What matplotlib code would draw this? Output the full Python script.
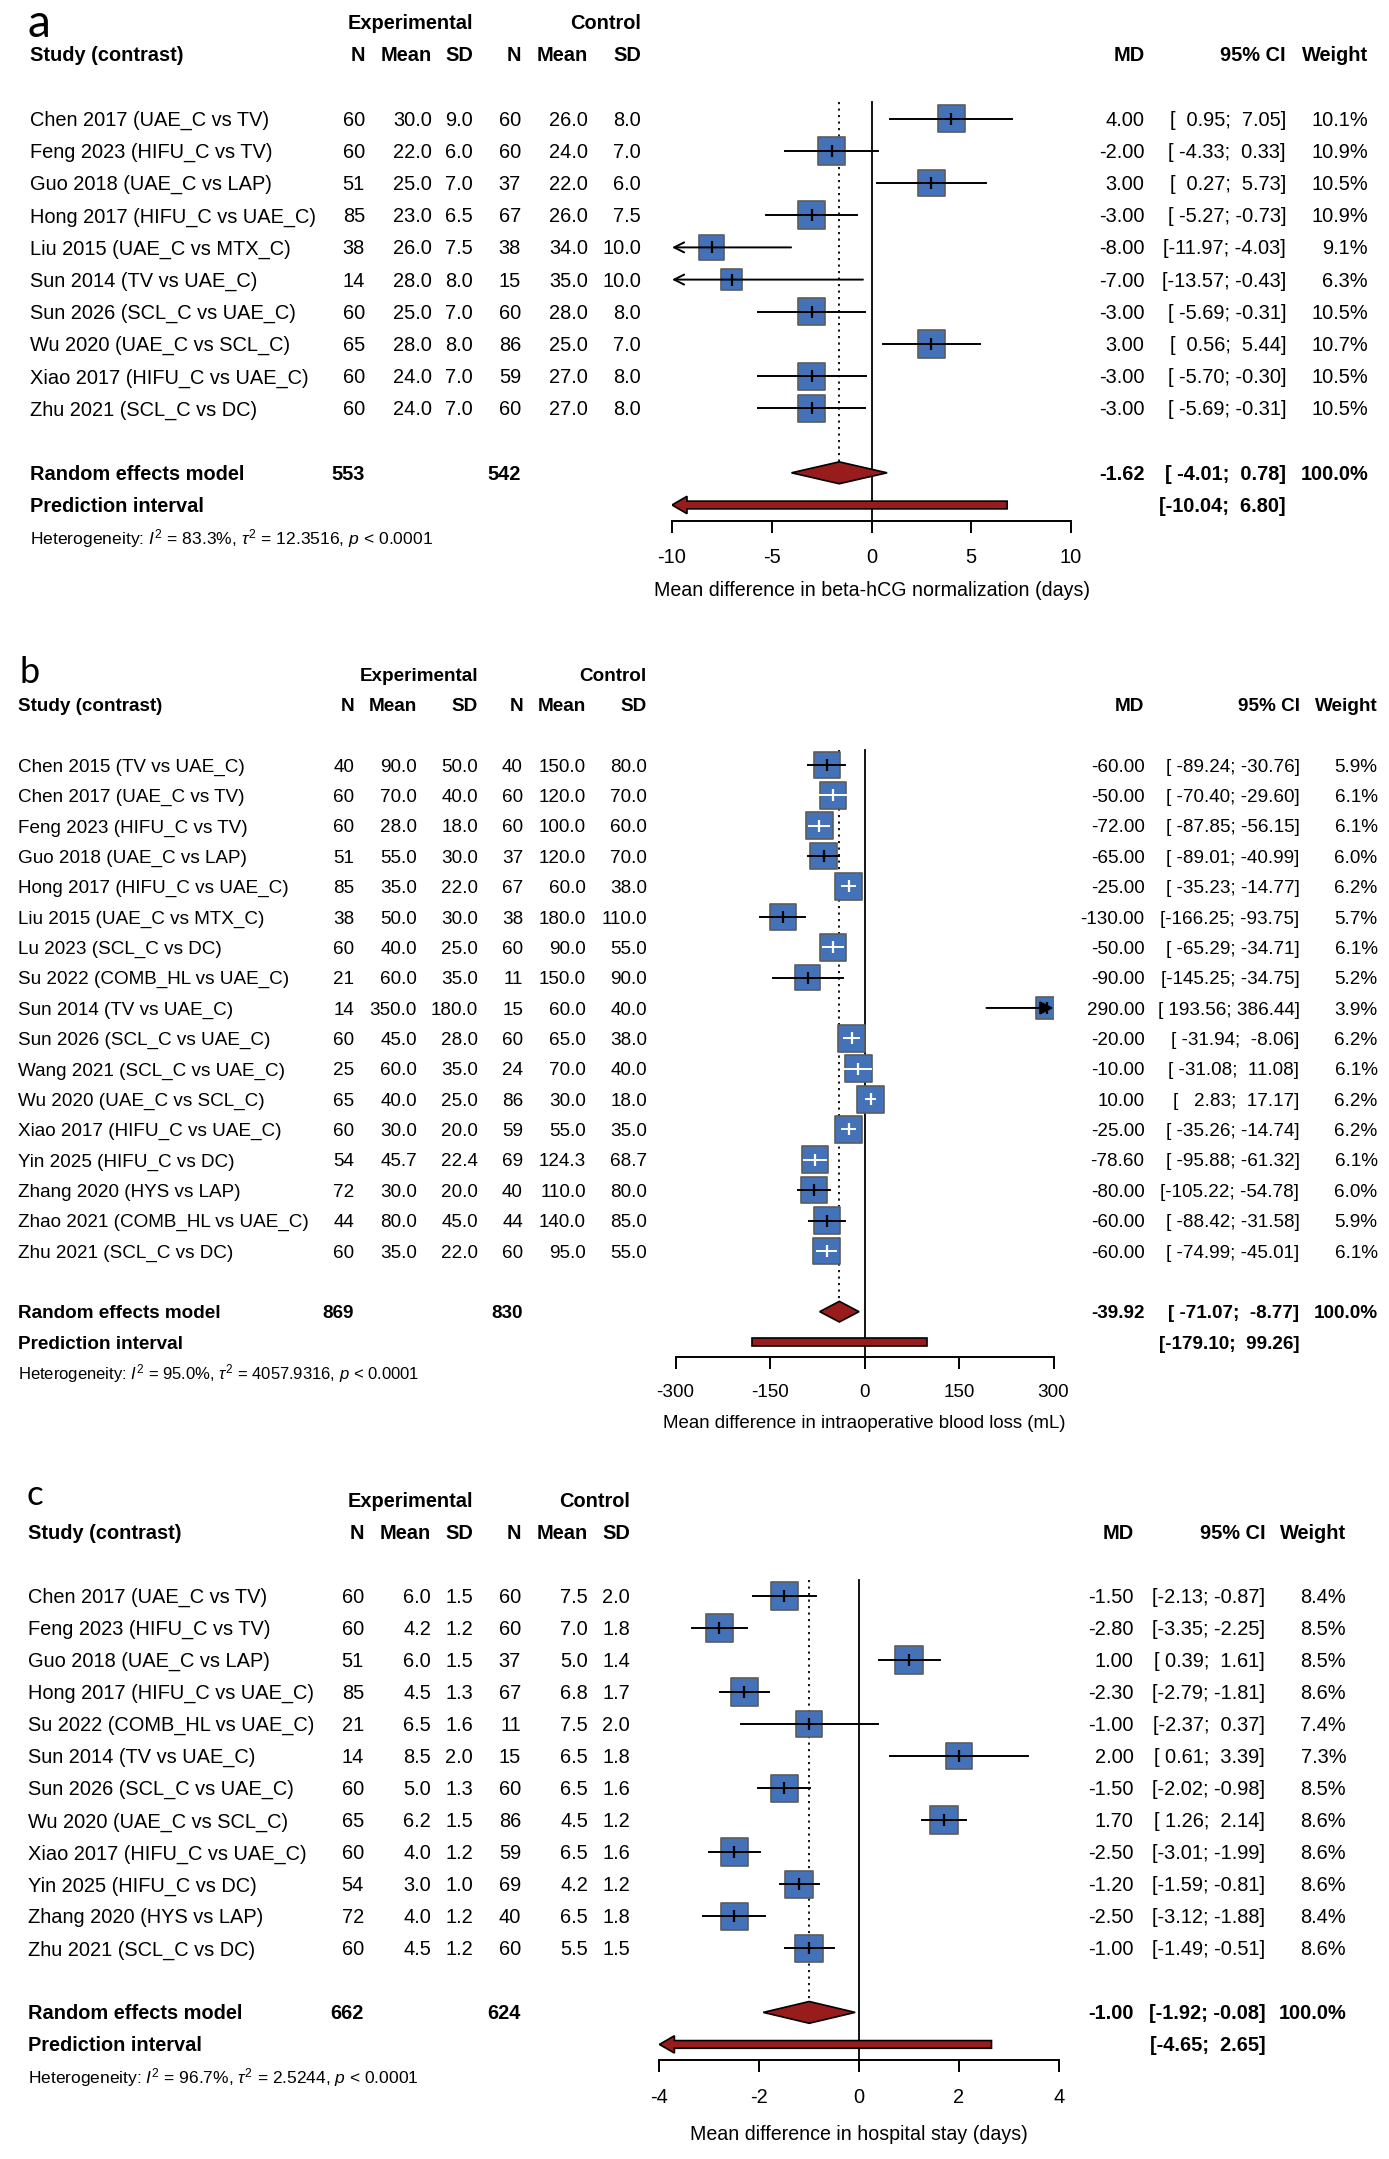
import matplotlib
matplotlib.use("Agg")
import numpy as np
import matplotlib.pyplot as plt
from matplotlib.patches import Polygon
from matplotlib.transforms import blended_transform_factory

plt.rcParams["font.family"] = ["Liberation Sans", "DejaVu Sans"]
plt.rcParams["axes.unicode_minus"] = False
plt.rcParams["mathtext.fontset"] = "custom"
plt.rcParams["mathtext.rm"] = "Liberation Sans"
plt.rcParams["mathtext.it"] = "Liberation Sans:italic"

# ---------- panel a: beta-hCG normalization ----------
a_studies = ["Chen 2017 (UAE_C vs TV)", "Feng 2023 (HIFU_C vs TV)", "Guo 2018 (UAE_C vs LAP)",
             "Hong 2017 (HIFU_C vs UAE_C)", "Liu 2015 (UAE_C vs MTX_C)", "Sun 2014 (TV vs UAE_C)",
             "Sun 2026 (SCL_C vs UAE_C)", "Wu 2020 (UAE_C vs SCL_C)", "Xiao 2017 (HIFU_C vs UAE_C)",
             "Zhu 2021 (SCL_C vs DC)"]
a_exp_n = [60, 60, 51, 85, 38, 14, 60, 65, 60, 60]
a_exp_mean = [30.0, 22.0, 25.0, 23.0, 26.0, 28.0, 25.0, 28.0, 24.0, 24.0]
a_exp_sd = [9.0, 6.0, 7.0, 6.5, 7.5, 8.0, 7.0, 8.0, 7.0, 7.0]
a_ctl_n = [60, 60, 37, 67, 38, 15, 60, 86, 59, 60]
a_ctl_mean = [26.0, 24.0, 22.0, 26.0, 34.0, 35.0, 28.0, 25.0, 27.0, 27.0]
a_ctl_sd = [8.0, 7.0, 6.0, 7.5, 10.0, 10.0, 8.0, 7.0, 8.0, 8.0]
a_md = [4.00, -2.00, 3.00, -3.00, -8.00, -7.00, -3.00, 3.00, -3.00, -3.00]
a_lo = [0.95, -4.33, 0.27, -5.27, -11.97, -13.57, -5.69, 0.56, -5.70, -5.69]
a_hi = [7.05, 0.33, 5.73, -0.73, -4.03, -0.43, -0.31, 5.44, -0.30, -0.31]
a_weight = [10.1, 10.9, 10.5, 10.9, 9.1, 6.3, 10.5, 10.7, 10.5, 10.5]
a_pooled = [-1.62, -4.01, 0.78]
a_pred = [-10.04, 6.80]
a_totals = [553, 542]
a_het = ["83.3%", "12.3516"]
a_ticks = [-10, -5, 0, 5, 10]
a_xlabel = "Mean difference in beta-hCG normalization (days)"

# ---------- panel b: intraoperative blood loss ----------
b_studies = ["Chen 2015 (TV vs UAE_C)", "Chen 2017 (UAE_C vs TV)", "Feng 2023 (HIFU_C vs TV)",
             "Guo 2018 (UAE_C vs LAP)", "Hong 2017 (HIFU_C vs UAE_C)", "Liu 2015 (UAE_C vs MTX_C)",
             "Lu 2023 (SCL_C vs DC)", "Su 2022 (COMB_HL vs UAE_C)", "Sun 2014 (TV vs UAE_C)",
             "Sun 2026 (SCL_C vs UAE_C)", "Wang 2021 (SCL_C vs UAE_C)", "Wu 2020 (UAE_C vs SCL_C)",
             "Xiao 2017 (HIFU_C vs UAE_C)", "Yin 2025 (HIFU_C vs DC)", "Zhang 2020 (HYS vs LAP)",
             "Zhao 2021 (COMB_HL vs UAE_C)", "Zhu 2021 (SCL_C vs DC)"]
b_exp_n = [40, 60, 60, 51, 85, 38, 60, 21, 14, 60, 25, 65, 60, 54, 72, 44, 60]
b_exp_mean = [90.0, 70.0, 28.0, 55.0, 35.0, 50.0, 40.0, 60.0, 350.0, 45.0, 60.0, 40.0, 30.0, 45.7, 30.0, 80.0, 35.0]
b_exp_sd = [50.0, 40.0, 18.0, 30.0, 22.0, 30.0, 25.0, 35.0, 180.0, 28.0, 35.0, 25.0, 20.0, 22.4, 20.0, 45.0, 22.0]
b_ctl_n = [40, 60, 60, 37, 67, 38, 60, 11, 15, 60, 24, 86, 59, 69, 40, 44, 60]
b_ctl_mean = [150.0, 120.0, 100.0, 120.0, 60.0, 180.0, 90.0, 150.0, 60.0, 65.0, 70.0, 30.0, 55.0, 124.3, 110.0, 140.0, 95.0]
b_ctl_sd = [80.0, 70.0, 60.0, 70.0, 38.0, 110.0, 55.0, 90.0, 40.0, 38.0, 40.0, 18.0, 35.0, 68.7, 80.0, 85.0, 55.0]
b_md = [-60.0, -50.0, -72.0, -65.0, -25.0, -130.0, -50.0, -90.0, 290.0, -20.0, -10.0, 10.0, -25.0, -78.6, -80.0, -60.0, -60.0]
b_lo = [-89.24, -70.40, -87.85, -89.01, -35.23, -166.25, -65.29, -145.25, 193.56, -31.94, -31.08, 2.83,
        -35.26, -95.88, -105.22, -88.42, -74.99]
b_hi = [-30.76, -29.60, -56.15, -40.99, -14.77, -93.75, -34.71, -34.75, 386.44, -8.06, 11.08, 17.17,
        -14.74, -61.32, -54.78, -31.58, -45.01]
b_weight = [5.9, 6.1, 6.1, 6.0, 6.2, 5.7, 6.1, 5.2, 3.9, 6.2, 6.1, 6.2, 6.2, 6.1, 6.0, 5.9, 6.1]
b_pooled = [-39.92, -71.07, -8.77]
b_pred = [-179.10, 99.26]
b_totals = [869, 830]
b_het = ["95.0%", "4057.9316"]
b_ticks = [-300, -150, 0, 150, 300]
b_xlabel = "Mean difference in intraoperative blood loss (mL)"

# ---------- panel c: hospital stay ----------
c_studies = ["Chen 2017 (UAE_C vs TV)", "Feng 2023 (HIFU_C vs TV)", "Guo 2018 (UAE_C vs LAP)",
             "Hong 2017 (HIFU_C vs UAE_C)", "Su 2022 (COMB_HL vs UAE_C)", "Sun 2014 (TV vs UAE_C)",
             "Sun 2026 (SCL_C vs UAE_C)", "Wu 2020 (UAE_C vs SCL_C)", "Xiao 2017 (HIFU_C vs UAE_C)",
             "Yin 2025 (HIFU_C vs DC)", "Zhang 2020 (HYS vs LAP)", "Zhu 2021 (SCL_C vs DC)"]
c_exp_n = [60, 60, 51, 85, 21, 14, 60, 65, 60, 54, 72, 60]
c_exp_mean = [6.0, 4.2, 6.0, 4.5, 6.5, 8.5, 5.0, 6.2, 4.0, 3.0, 4.0, 4.5]
c_exp_sd = [1.5, 1.2, 1.5, 1.3, 1.6, 2.0, 1.3, 1.5, 1.2, 1.0, 1.2, 1.2]
c_ctl_n = [60, 60, 37, 67, 11, 15, 60, 86, 59, 69, 40, 60]
c_ctl_mean = [7.5, 7.0, 5.0, 6.8, 7.5, 6.5, 6.5, 4.5, 6.5, 4.2, 6.5, 5.5]
c_ctl_sd = [2.0, 1.8, 1.4, 1.7, 2.0, 1.8, 1.6, 1.2, 1.6, 1.2, 1.8, 1.5]
c_md = [-1.50, -2.80, 1.00, -2.30, -1.00, 2.00, -1.50, 1.70, -2.50, -1.20, -2.50, -1.00]
c_lo = [-2.13, -3.35, 0.39, -2.79, -2.37, 0.61, -2.02, 1.26, -3.01, -1.59, -3.12, -1.49]
c_hi = [-0.87, -2.25, 1.61, -1.81, 0.37, 3.39, -0.98, 2.14, -1.99, -0.81, -1.88, -0.51]
c_weight = [8.4, 8.5, 8.5, 8.6, 7.4, 7.3, 8.5, 8.6, 8.6, 8.6, 8.4, 8.6]
c_pooled = [-1.00, -1.92, -0.08]
c_pred = [-4.65, 2.65]
c_totals = [662, 624]
c_het = ["96.7%", "2.5244"]
c_ticks = [-4, -2, 0, 2, 4]
c_xlabel = "Mean difference in hospital stay (days)"

W, H = 1389, 2159
fig = plt.figure(figsize=(W / 100, H / 100), dpi=100)

BOX = "#4372B9"
BOX_EDGE = "#5c5c5c"
DARKRED = "#981C1C"


def ci_text(lo, hi, extra):
    los = ["%.2f" % v for v in lo]
    his = ["%.2f" % v for v in hi]
    wl = max(len(s) for s in los)
    wh = max(len(s) for s in his)
    out = ["[%s; %s]" % (l.rjust(wl), h.rjust(wh)) for l, h in zip(los, his)]
    more = ["[%s; %s]" % (("%.2f" % l).rjust(wl), ("%.2f" % h).rjust(wh)) for l, h in extra]
    return out, more


def forest(letter, studies, en, em, es, cn, cm, cs, md, lo, hi, wt, pooled, pred,
           totals, het, ticks, xlabel, lay):
    n = len(studies)
    x0, x1 = lay["xpix"]
    row0, step = lay["row0"], lay["step"]
    top = row0 - 3.5 * step
    bot = row0 + (n + 2.5) * step
    ax = fig.add_axes([x0 / W, 1 - bot / H, (x1 - x0) / W, (bot - top) / H])
    xmin, xmax = ticks[0], ticks[-1]
    ax.set_xlim(xmin, xmax)
    ax.set_ylim(n + 2.5, -3.5)
    ax.patch.set_alpha(0)
    for s in ["left", "right", "top"]:
        ax.spines[s].set_visible(False)
    ax.spines["bottom"].set_linewidth(1.4)
    ax.spines["bottom"].set_bounds(xmin, xmax)
    ax.set_yticks([])
    ax.set_xticks(ticks)
    ax.set_xticklabels([str(t) for t in ticks])
    fs = lay["fs"]
    ax.tick_params(axis="x", direction="out", length=8.6, width=1.4, pad=11, labelsize=fs)
    ax.set_xlabel(xlabel, fontsize=fs * 0.985, labelpad=lay["lpad"])

    upp = (xmax - xmin) / (x1 - x0)   # data units per pixel
    wmax = max(wt)
    side_px = lay["box"] * np.sqrt(np.array(wt) / wmax)

    # reference lines
    ax.plot([0, 0], [-0.5, n + 2.5], color="black", lw=1.3, zorder=1)
    dh = 0.34
    ax.plot([pooled[0], pooled[0]], [-0.5, n + 1 - dh], color="black", lw=1.3,
            ls=(0, (1.2, 2.4)), zorder=1)

    ys = np.arange(n)
    ax.scatter(md, ys, marker="s", s=(side_px / 1.389) ** 2, facecolor=BOX,
               edgecolor=BOX_EDGE, linewidth=1.2, zorder=3)
    for i in range(n):
        inside = (md[i] - lo[i]) < side_px[i] / 2 * upp and (hi[i] - md[i]) < side_px[i] / 2 * upp
        col = "white" if inside else "black"
        l, h = max(lo[i], xmin), min(hi[i], xmax)
        if lo[i] < xmin:
            ax.annotate("", xy=(xmin, i), xytext=(h, i),
                        arrowprops=dict(arrowstyle="->", lw=1.4, color=col,
                                        shrinkA=0, shrinkB=0, mutation_scale=18), zorder=4)
        elif hi[i] > xmax:
            ax.annotate("", xy=(xmax, i), xytext=(l, i),
                        arrowprops=dict(arrowstyle="-|>", lw=1.4, color=col,
                                        shrinkA=0, shrinkB=0, mutation_scale=20), zorder=4)
        else:
            ax.plot([l, h], [i, i], color=col, lw=1.4, zorder=4)
        ax.plot(md[i], i, marker="|", ms=8, mew=1.6, color=col, zorder=5)

    # pooled diamond
    yr = n + 1
    ax.add_patch(Polygon([(pooled[1], yr), (pooled[0], yr - dh), (pooled[2], yr), (pooled[0], yr + dh)],
                         closed=True, facecolor=DARKRED, edgecolor="black", lw=1.2, zorder=3))
    # prediction interval bar
    yp = n + 2
    bh, ah, aw = 0.12, 0.27, 15 * upp
    plo, phi = pred
    if plo < xmin:
        pts = [(xmin, yp), (xmin + aw, yp - ah), (xmin + aw, yp - bh), (phi, yp - bh),
               (phi, yp + bh), (xmin + aw, yp + bh), (xmin + aw, yp + ah)]
    else:
        pts = [(plo, yp - bh), (phi, yp - bh), (phi, yp + bh), (plo, yp + bh)]
    ax.add_patch(Polygon(pts, closed=True, facecolor=DARKRED, edgecolor="black", lw=1.2, zorder=3))

    # text columns
    tr = blended_transform_factory(fig.transFigure, ax.transData)
    off = 0.22

    def put(xp, y, s, ha="right", bold=False, size=None):
        ax.text(xp / W, y + off, s, transform=tr, ha=ha, va="baseline",
                fontsize=size or fs, fontweight="bold" if bold else "normal", clip_on=False)

    ax.text(lay["letter"][0] / W, lay["letter"][1], letter, transform=tr, ha="left",
            va="baseline", fontsize=lay["letter"][2], family=["Lato", "DejaVu Sans"])
    c = lay["cols"]
    put(c[2], -3, "Experimental", bold=True)
    put(c[5], -3, "Control", bold=True)
    put(lay["study_x"], -2, "Study (contrast)", ha="left", bold=True)
    for xp, s in zip(c, ["N", "Mean", "SD", "N", "Mean", "SD"]):
        put(xp, -2, s, bold=True)
    r = lay["right"]
    put(r[0], -2, "MD", bold=True)
    put(r[1], -2, "95% CI", bold=True)
    put(r[2], -2, "Weight", bold=True)

    cis, more = ci_text(lo, hi, [(pooled[1], pooled[2]), pred])
    for i in range(n):
        put(lay["study_x"], i, studies[i], ha="left")
        put(c[0], i, "%d" % en[i])
        put(c[1], i, "%.1f" % em[i])
        put(c[2], i, "%.1f" % es[i])
        put(c[3], i, "%d" % cn[i])
        put(c[4], i, "%.1f" % cm[i])
        put(c[5], i, "%.1f" % cs[i])
        put(r[0], i, "%.2f" % md[i])
        put(r[1], i, cis[i])
        put(r[2], i, "%.1f%%" % wt[i])

    put(lay["study_x"], yr, "Random effects model", ha="left", bold=True)
    put(c[0], yr, "%d" % totals[0], bold=True)
    put(c[3], yr, "%d" % totals[1], bold=True)
    put(r[0], yr, "%.2f" % pooled[0], bold=True)
    put(r[1], yr, more[0], bold=True)
    put(r[2], yr, "100.0%", bold=True)
    put(lay["study_x"], yp, "Prediction interval", ha="left", bold=True)
    put(r[1], yp, more[1], bold=True)
    put(lay["study_x"], yp + 1,
        r"Heterogeneity: $I^2$ = %s, $\tau^2$ = %s, $p$ < 0.0001" % (het[0], het[1]),
        ha="left", size=lay["hfs"])
    return ax


forest("a", a_studies, a_exp_n, a_exp_mean, a_exp_sd, a_ctl_n, a_ctl_mean, a_ctl_sd,
       a_md, a_lo, a_hi, a_weight, a_pooled, a_pred, a_totals, a_het, a_ticks, a_xlabel,
       dict(xpix=(672, 1071), row0=118.6, step=32.2, fs=14.4, hfs=12.6, box=27.5, lpad=10,
            study_x=30, cols=[365, 432, 473, 521, 588, 641], right=[1144.5, 1286, 1368],
            letter=(28, -2.52, 33)))

forest("b", b_studies, b_exp_n, b_exp_mean, b_exp_sd, b_ctl_n, b_ctl_mean, b_ctl_sd,
       b_md, b_lo, b_hi, b_weight, b_pooled, b_pred, b_totals, b_het, b_ticks, b_xlabel,
       dict(xpix=(675.5, 1053.5), row0=765, step=30.37, fs=13.6, hfs=12.0, box=27, lpad=10,
            study_x=18, cols=[354, 417, 478, 523, 586, 647], right=[1144.5, 1299.5, 1377.5],
            letter=(20, -2.71, 26)))

forest("c", c_studies, c_exp_n, c_exp_mean, c_exp_sd, c_ctl_n, c_ctl_mean, c_ctl_sd,
       c_md, c_lo, c_hi, c_weight, c_pooled, c_pred, c_totals, c_het, c_ticks, c_xlabel,
       dict(xpix=(659.4, 1058.9), row0=1596, step=32.03, fs=14.4, hfs=12.5, box=27.5, lpad=13,
            study_x=28, cols=[364, 431, 473, 521, 588, 630], right=[1133.4, 1265.2, 1346.2],
            letter=(26, -2.85, 25)))

fig.savefig("out.png", dpi=100, facecolor="white")
